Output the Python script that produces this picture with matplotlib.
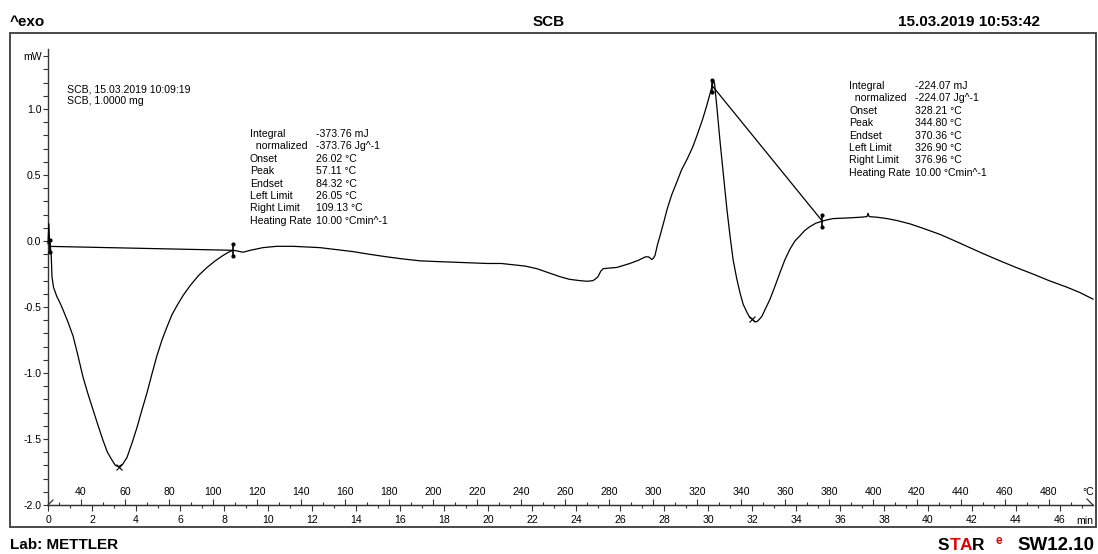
import numpy as np
import matplotlib
matplotlib.use("Agg")
import matplotlib.pyplot as plt
from matplotlib.ticker import MultipleLocator, FixedLocator, FixedFormatter
from matplotlib.patches import Rectangle
from matplotlib.lines import Line2D

plt.rcParams["axes.unicode_minus"] = False

# ---- DSC measurement: time (min) and heat flow (mW) ----
time_min = [0.00, 0.04, 0.07, 0.11, 0.15, 0.18, 0.25, 0.40, 0.55, 0.68,
            0.90, 1.14, 1.35, 1.59, 1.82, 2.05, 2.28, 2.50, 2.70, 2.91,
            3.06, 3.21, 3.40, 3.59, 3.82, 4.05, 4.27, 4.50, 4.72, 4.95,
            5.18, 5.41, 5.63, 5.86, 6.15, 6.45, 6.85, 7.23, 7.60, 7.95,
            8.20, 8.41, 8.60, 8.73, 8.86, 9.20, 9.77, 10.40, 11.14, 11.80,
            12.36, 13.10, 13.86, 14.60, 15.41, 16.10, 16.91, 17.60, 18.41, 19.20,
            19.95, 20.60, 21.14, 21.70, 22.23, 22.75, 23.27, 23.70, 24.18, 24.50,
            24.77, 24.90, 25.00, 25.12, 25.23, 25.50, 25.86, 26.15, 26.45, 26.85,
            27.15, 27.30, 27.45, 27.52, 27.59, 27.70, 27.82, 28.00, 28.14, 28.35,
            28.59, 28.80, 29.05, 29.30, 29.50, 29.75, 29.95, 30.10, 30.18, 30.25,
            30.30, 30.40, 30.55, 30.70, 30.86, 31.00, 31.14, 31.30, 31.45, 31.60,
            31.77, 31.90, 32.00, 32.12, 32.23, 32.35, 32.45, 32.62, 32.82, 33.05,
            33.27, 33.50, 33.73, 33.95, 34.18, 34.40, 34.64, 34.90, 35.18, 35.40,
            35.68, 36.00, 36.36, 36.90, 37.23, 37.27, 37.33, 37.70, 38.14, 38.60,
            39.18, 39.80, 40.55, 41.10, 41.77, 42.50, 43.27, 44.00, 44.77, 45.50,
            46.32, 46.90, 47.50]
heat_flow_mw = [-0.02, 0.13, -0.01, -0.045, -0.12, -0.27, -0.35, -0.42, -0.47, -0.52,
                -0.61, -0.72, -0.86, -1.03, -1.16, -1.28, -1.40, -1.51, -1.60, -1.66,
                -1.70, -1.71, -1.69, -1.64, -1.53, -1.41, -1.28, -1.15, -1.01, -0.87,
                -0.75, -0.65, -0.56, -0.49, -0.41, -0.34, -0.26, -0.20, -0.15, -0.11,
                -0.085, -0.07, -0.075, -0.08, -0.085, -0.07, -0.05, -0.04, -0.04, -0.045,
                -0.05, -0.065, -0.08, -0.10, -0.12, -0.135, -0.15, -0.155, -0.16, -0.165,
                -0.17, -0.17, -0.18, -0.19, -0.21, -0.24, -0.27, -0.29, -0.30, -0.305,
                -0.30, -0.285, -0.27, -0.23, -0.21, -0.205, -0.20, -0.185, -0.17, -0.145,
                -0.12, -0.12, -0.14, -0.13, -0.11, -0.03, 0.04, 0.15, 0.24, 0.35,
                0.45, 0.54, 0.62, 0.71, 0.80, 0.92, 1.03, 1.12, 1.17, 1.22,
                1.19, 1.02, 0.75, 0.50, 0.24, 0.04, -0.14, -0.28, -0.39, -0.48,
                -0.54, -0.58, -0.59, -0.61, -0.61, -0.59, -0.57, -0.51, -0.44, -0.34,
                -0.24, -0.14, -0.06, 0.00, 0.04, 0.08, 0.11, 0.135, 0.15, 0.16,
                0.17, 0.172, 0.175, 0.18, 0.185, 0.21, 0.185, 0.18, 0.17, 0.155,
                0.13, 0.095, 0.05, 0.01, -0.04, -0.095, -0.15, -0.20, -0.25, -0.30,
                -0.35, -0.39, -0.44]

start_temp_c = 25.0
heating_rate = 10.0  # °C/min

# Peak evaluations (°C)
peak1_limits_c = [26.05, 109.13]
peak1_top_c = 57.11
peak2_limits_c = [326.90, 376.96]
peak2_top_c = 344.80

eval_labels = ["Integral", "  normalized", "Onset", "Peak", "Endset",
               "Left Limit", "Right Limit", "Heating Rate"]
eval1_values = ["-373.76 mJ", "-373.76 Jg^-1", "26.02 °C", "57.11 °C",
                "84.32 °C", "26.05 °C", "109.13 °C", "10.00 °Cmin^-1"]
eval2_values = ["-224.07 mJ", "-224.07 Jg^-1", "328.21 °C", "344.80 °C",
                "370.36 °C", "326.90 °C", "376.96 °C", "10.00 °Cmin^-1"]

y_ticks = [-2.0, -1.5, -1.0, -0.5, 0.0, 0.5, 1.0, 1.4]
y_ticklabels = ["-2.0", "-1.5", "-1.0", "-0.5", "0.0", "0.5", "1.0", "mW"]


def t_to_temp(t):
    return start_temp_c + heating_rate * np.asarray(t)


def temp_to_t(temp):
    return (np.asarray(temp) - start_temp_c) / heating_rate


W, H = 1098, 554
SMALL = "Liberation Sans"
fs_small = 7.6


def fx(x):
    return x / W


def fy(y):
    return 1 - y / H


fig = plt.figure(figsize=(W / 100, H / 100), dpi=100)

# outer frame
fig.patches.append(Rectangle((fx(10), fy(527)), (1096 - 10) / W, (527 - 33) / H,
                             transform=fig.transFigure, fill=False,
                             ec="#3a3a3a", lw=1.3))

ax = fig.add_axes([fx(48), fy(505), (1093 - 48) / W, (505 - 49) / H])
ax.set_xlim(0, 47.5)
ax.set_ylim(-2.0, 1.455)
ax.patch.set_alpha(0)
for s in ("top", "right"):
    ax.spines[s].set_visible(False)
for s in ("left", "bottom"):
    ax.spines[s].set_color("#333333")
    ax.spines[s].set_linewidth(1.0)

# y axis
ax.yaxis.set_major_locator(FixedLocator(y_ticks))
ax.yaxis.set_major_formatter(FixedFormatter(y_ticklabels))
ax.yaxis.set_minor_locator(MultipleLocator(0.1))
ax.tick_params(axis="y", which="both", direction="out", length=3.5,
               width=0.8, color="#333333", labelsize=fs_small, pad=1.2)

# time axis (below)
ax.xaxis.set_major_locator(MultipleLocator(2))
ax.xaxis.set_minor_locator(MultipleLocator(1))
ax.tick_params(axis="x", which="major", direction="out", length=4.3,
               width=0.8, color="#333333", labelsize=fs_small, pad=3.2)
ax.tick_params(axis="x", which="minor", direction="out", length=2.2,
               width=0.8, color="#333333")

# temperature axis (above the same line)
sec = ax.secondary_xaxis(0.0, functions=(t_to_temp, temp_to_t))
sec.set_alignment("top")
sec.spines["top"].set_color("#333333")
sec.xaxis.set_major_locator(FixedLocator(np.arange(40, 481, 20)))
sec.xaxis.set_minor_locator(FixedLocator(np.arange(30, 491, 10)))
sec.tick_params(axis="x", which="major", direction="out", length=4.3,
                width=0.8, color="#333333", labelsize=fs_small, pad=1.5)
sec.tick_params(axis="x", which="minor", direction="out", length=2.2,
                width=0.8, color="#333333")

for lab in ax.get_xticklabels() + ax.get_yticklabels() + sec.get_xticklabels():
    lab.set_fontfamily(SMALL)

# curve
t = np.array(time_min)
hf = np.array(heat_flow_mw)
ax.plot(t, hf, color="black", lw=0.9, clip_on=False, zorder=3,
        solid_joinstyle="round")


def draw_eval(limits_c, top_c):
    tl, tr = temp_to_t(limits_c)
    yl, yr = np.interp([tl, tr], t, hf)
    ax.plot([tl, tr], [yl, yr], color="black", lw=0.9, zorder=3)
    for tx, ty in ((tl, yl), (tr, yr)):
        ax.plot([tx, tx], [ty - 0.045, ty + 0.045], color="black", lw=1.2, zorder=4)
        ax.plot([tx, tx], [ty - 0.045, ty + 0.045], "o", color="black",
                ms=2.0, zorder=4)
    tp = temp_to_t(top_c)
    ax.plot(tp, np.interp(tp, t, hf), marker="x", color="black", ms=5,
            mew=0.8, zorder=4)


draw_eval(peak1_limits_c, peak1_top_c)
draw_eval(peak2_limits_c, peak2_top_c)

# axis decorations: break mark at origin, arrow at end
fig.add_artist(Line2D([fx(48), fx(53)], [fy(505), fy(500)], color="#333333", lw=0.9))
fig.add_artist(Line2D([fx(1087), fx(1093)], [fy(499), fy(505)], color="#333333", lw=0.9))
fig.text(fx(1088), fy(492), "°C", ha="center", va="center",
         fontfamily=SMALL, fontsize=fs_small)
fig.text(fx(1085), fy(521), "min", ha="center", va="center",
         fontfamily=SMALL, fontsize=fs_small)

# sample info
fig.text(fx(67), fy(89), "SCB, 15.03.2019 10:09:19", ha="left", va="center",
         fontfamily=SMALL, fontsize=fs_small)
fig.text(fx(67), fy(101), "SCB, 1.0000 mg", ha="left", va="center",
         fontfamily=SMALL, fontsize=fs_small)

# evaluation tables
line_step = 12.4
for i, (lab, v1, v2) in enumerate(zip(eval_labels, eval1_values, eval2_values)):
    y1 = 134 + i * line_step
    y2 = 86 + i * line_step
    fig.text(fx(250), fy(y1), lab, ha="left", va="center",
             fontfamily=SMALL, fontsize=fs_small)
    fig.text(fx(316), fy(y1), v1, ha="left", va="center",
             fontfamily=SMALL, fontsize=fs_small)
    fig.text(fx(849), fy(y2), lab, ha="left", va="center",
             fontfamily=SMALL, fontsize=fs_small)
    fig.text(fx(915), fy(y2), v2, ha="left", va="center",
             fontfamily=SMALL, fontsize=fs_small)

# header
hdr = dict(fontfamily=SMALL, fontsize=11, fontweight="bold", va="center")
fig.text(fx(10), fy(22), "^exo", ha="left", **hdr)
fig.text(fx(549), fy(22), "SCB", ha="center", **hdr)
fig.text(fx(1040), fy(22), "15.03.2019 10:53:42", ha="right", **hdr)

# footer
fig.text(fx(10), fy(545), "Lab: METTLER", ha="left", **hdr)
logo = dict(fontfamily=SMALL, fontsize=12.5, fontweight="bold", va="center",
            ha="center")
for ch, xc, col in (("S", 943, "black"), ("T", 955, "#e00000"),
                    ("A", 966, "#e00000"), ("R", 978, "black")):
    fig.text(fx(xc), fy(545), ch, color=col, **logo)
fig.text(fx(999), fy(541), "e", color="#e00000", fontfamily=SMALL,
         fontsize=8.5, fontweight="bold", ha="center", va="center")
fig.text(fx(1094), fy(545), "SW12.10", color="black", fontfamily=SMALL,
         fontsize=13.5, fontweight="bold", ha="right", va="center")

fig.savefig("out.png", dpi=100)
